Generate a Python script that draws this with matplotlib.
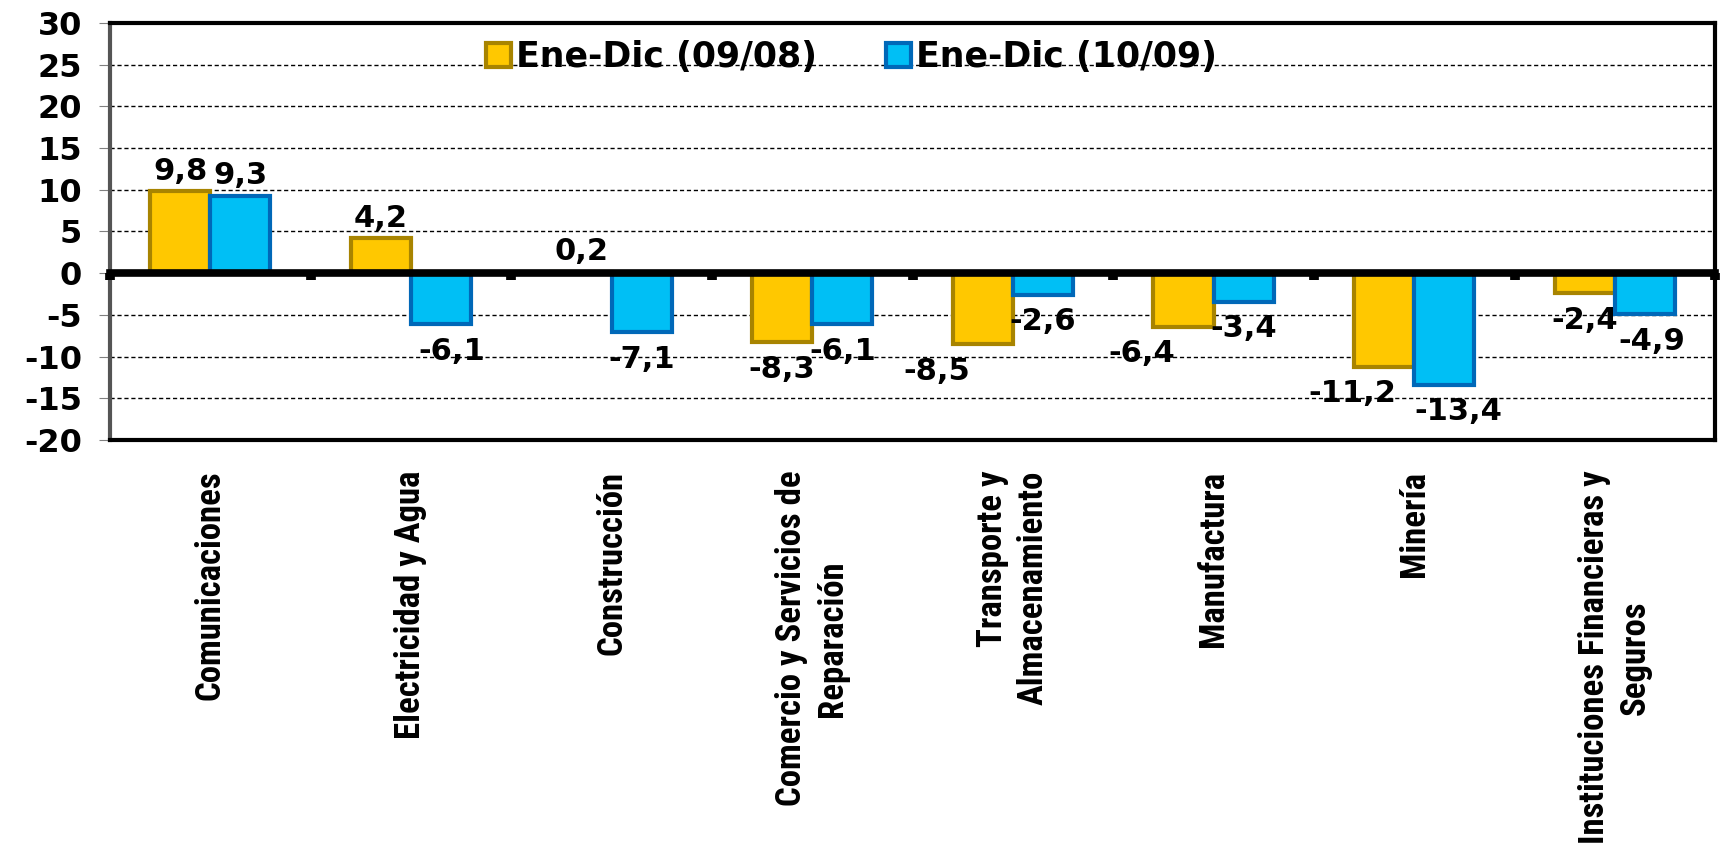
import numpy as np
import matplotlib.pyplot as plt
from matplotlib import font_manager

categorias = ['Comunicaciones', 'Electricidad y Agua', 'Construcción',
              'Comercio y Servicios de\nReparación', 'Transporte y\nAlmacenamiento',
              'Manufactura', 'Minería', 'Instituciones Financieras y\nSeguros']
serie_0908 = [9.8, 4.2, 0.2, -8.3, -8.5, -6.4, -11.2, -2.4]
serie_1009 = [9.3, -6.1, -7.1, -6.1, -2.6, -3.4, -13.4, -4.9]
leyenda = ['Ene-Dic (09/08)', 'Ene-Dic (10/09)']

# desplazamiento manual de algunas etiquetas (puntos), como en el original
nudge_0908 = [0, 0, 0, 0, -33, -30, -23, 0]
nudge_1009 = [0, 8, 0, 0, 0, 0, 10, 5]

oro, oro_borde = '#FFC800', '#A88400'
cian, cian_borde = '#00BFF5', '#0068B8'

plt.rcParams['axes.unicode_minus'] = False

# fuente estrecha para las categorias, si existe
disponibles = {f.name for f in font_manager.fontManager.ttflist}
fuente_cat = 'Liberation Sans'
tam_cat = 21
for cand, tam in [('Liberation Sans Narrow', 25), ('Roboto Condensed', 25), ('Open Sans Condensed', 24)]:
    if cand in disponibles:
        fuente_cat, tam_cat = cand, tam
        break

fig = plt.figure(figsize=(17.29, 8.51), dpi=100)
ax = fig.add_axes([0.0636, 0.483, 0.9284, 0.49])

x = np.arange(len(categorias))
w = 0.3
b1 = ax.bar(x - w / 2, serie_0908, w, color=oro, edgecolor=oro_borde, linewidth=3, zorder=2)
b2 = ax.bar(x + w / 2, serie_1009, w, color=cian, edgecolor=cian_borde, linewidth=3, zorder=2)

# etiquetas de valores
for barras, vals, nud in [(b1, serie_0908, nudge_0908), (b2, serie_1009, nudge_1009)]:
    for r, v, dx in zip(barras, vals, nud):
        xc = r.get_x() + r.get_width() / 2
        txt = f'{v:.1f}'.replace('.', ',')
        if v >= 0:
            ax.annotate(txt, (xc, v), xytext=(dx, 4), textcoords='offset points',
                        ha='center', va='bottom', fontsize=22, fontweight='bold', zorder=6)
        else:
            ax.annotate(txt, (xc, v), xytext=(dx, -9), textcoords='offset points',
                        ha='center', va='top', fontsize=22, fontweight='bold', zorder=6)

ax.set_ylim(-20, 30)
ax.set_xlim(-0.5, len(categorias) - 0.5)
ax.set_yticks(np.arange(-20, 31, 5))
ax.tick_params(axis='y', labelsize=23, length=8, color='gray', pad=12)
for lbl in ax.get_yticklabels():
    lbl.set_fontweight('bold')

for yv in np.arange(-15, 30, 5):
    if yv != 0:
        ax.axhline(yv, color='black', lw=1, ls=(0, (3, 2)), zorder=0)

ax.set_xticks(x)
ax.set_xticklabels(categorias, rotation=90, family=[fuente_cat, 'DejaVu Sans'],
                   fontsize=tam_cat, fontweight='bold', va='top', ha='center',
                   linespacing=1.3)
ax.tick_params(axis='x', length=0, pad=22)
ax.get_xticklabels()[4].set_multialignment('right')

for s in ax.spines.values():
    s.set_linewidth(3)
ax.spines['left'].set_color('#555555')

# eje en cero con marcas cuadradas entre categorías
eje0 = ax.secondary_xaxis(0.4)
eje0.set_zorder(5)
eje0.spines['bottom'].set_linewidth(5.5)
eje0.set_xticks(np.arange(-0.5, len(categorias), 1.0))
eje0.tick_params(axis='x', length=5, width=7, direction='out', labelbottom=False)

ax.legend([b1, b2], leyenda, loc='upper center', bbox_to_anchor=(0.462, 1.0), ncol=2,
          frameon=False, prop={'size': 25, 'weight': 'bold'}, handlelength=0.7,
          handleheight=0.7, handletextpad=0.15, columnspacing=2.0, borderaxespad=0.1)

fig.savefig('out.png', dpi=100)
